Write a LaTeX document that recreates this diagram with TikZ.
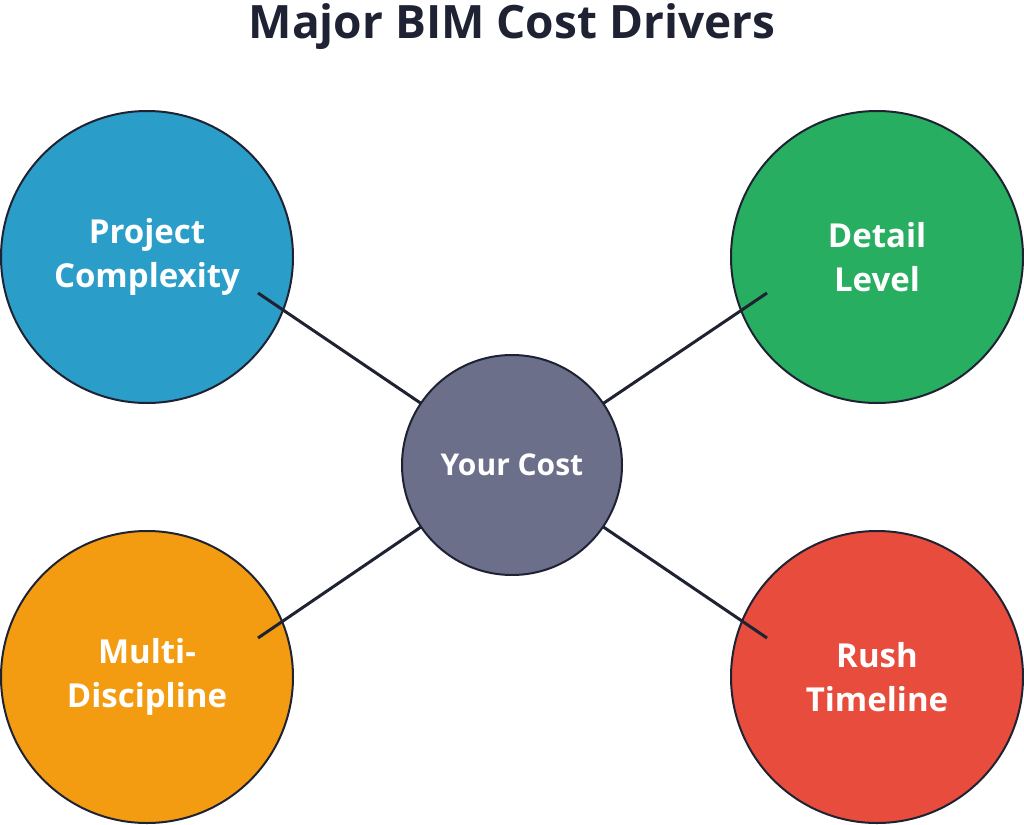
\documentclass[tikz,border=0pt]{standalone}
\usepackage{fontspec}
\setmainfont{Open Sans}
\definecolor{ink}{HTML}{1E2233}
\definecolor{cblue}{HTML}{2A9DC8}
\definecolor{cgreen}{HTML}{27AE60}
\definecolor{corange}{HTML}{F39C12}
\definecolor{cred}{HTML}{E74C3C}
\definecolor{cgray}{HTML}{6B6F8A}
\begin{document}
\begin{tikzpicture}[x=1pt,y=-1pt,
  big/.style={circle,draw=ink,line width=2pt,minimum size=292pt,inner sep=0pt,text=white,font=\fontsize{33}{44}\selectfont\bfseries,align=center},
  hub/.style={circle,draw=ink,line width=2pt,fill=cgray,minimum size=220pt,inner sep=0pt,text=white,font=\fontsize{30}{36}\selectfont\bfseries},
  link/.style={draw=ink,line width=3pt}]
\useasboundingbox (0,0) rectangle (1024,824);
\node[font=\fontsize{46}{50}\selectfont\bfseries,text=ink] (title) at (512,27) {Major BIM Cost Drivers};
\node[big,fill=cblue] (pc) at (147,257) {Project\\Complexity};
\node[big,fill=cgreen] (dl) at (877,257) {Detail\\Level};
\node[big,fill=corange] (md) at (147,677) {Multi-\\Discipline};
\node[big,fill=cred] (rt) at (877,677) {Rush\\Timeline};
\coordinate (a1) at (258,293);
\coordinate (a2) at (767,293);
\coordinate (a3) at (258,638);
\coordinate (a4) at (767,638);
\coordinate (hc) at (512,465);
\draw[link] (a1) -- (hc); \draw[link] (a2) -- (hc);
\draw[link] (a3) -- (hc); \draw[link] (a4) -- (hc);
\node[hub] (yc) at (hc) {Your Cost};
\end{tikzpicture}
\end{document}
